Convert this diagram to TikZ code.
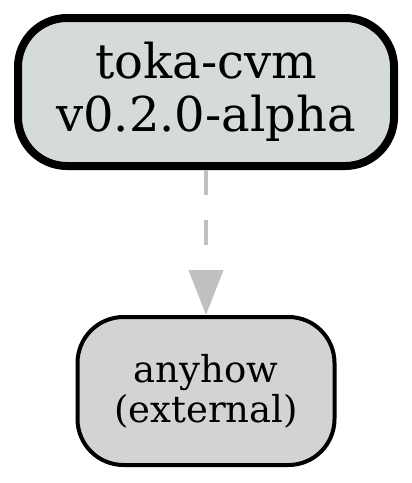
\documentclass[tikz,border=0pt]{standalone}
\usepackage{fontspec}
\setmainfont{DejaVu Serif}
\usepackage{xcolor}
\usetikzlibrary{positioning,arrows.meta}

\definecolor{cratefill}{HTML}{D5DBDB}
\definecolor{extfill}{HTML}{D3D3D3}
\definecolor{depgray}{HTML}{C0C0C0}

\begin{document}
\begin{tikzpicture}[
x=1pt, y=1pt,
crate/.style={rectangle, draw, fill=cratefill, line width=8pt, rounded corners=49pt, minimum width=376pt, minimum height=148pt, align=center, font=\fontsize{48}{53}\selectfont},
extcrate/.style={rectangle, draw, fill=extfill, line width=4pt, rounded corners=46pt, minimum width=257pt, minimum height=148pt, align=center, font=\fontsize{37}{40}\selectfont},
deparrow/.style={-{Triangle[length=45pt, width=34pt]}, line width=4pt, depgray, dash pattern=on 25pt off 25pt}
]
\useasboundingbox (0,0) rectangle (412,-483);

% --- CRATES ---
\node[crate] (toka) at (206,-92) {toka-cvm\\v0.2.0-alpha};
\node[extcrate, below=145pt of toka] (anyhow) {anyhow\\(external)};

% --- DEPENDENCY ---
\draw[deparrow] (toka) -- (anyhow);

\end{tikzpicture}
\end{document}
